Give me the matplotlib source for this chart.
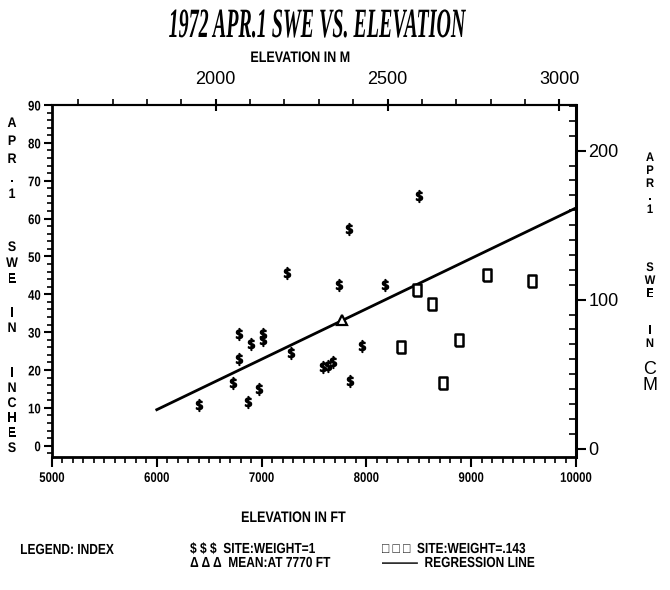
import matplotlib
matplotlib.use('Agg')
import matplotlib.pyplot as plt
from matplotlib import font_manager as fm
from matplotlib.font_manager import FontProperties
from matplotlib.ticker import FixedLocator, MultipleLocator
from matplotlib.patheffects import AbstractPathEffect
from matplotlib.transforms import Affine2D

# ---------------- data ----------------
site_ft = [6406, 6724, 6787, 6787, 6873, 6899, 6975, 7010, 7010, 7245,
           7281, 7589, 7637, 7684, 7742, 7837, 7844, 7958, 8181, 8502]
site_in = [10.8, 16.5, 22.9, 29.5, 11.4, 26.9, 15.0, 28.0, 29.5, 45.5,
           24.5, 20.9, 21.1, 22.2, 42.5, 57.2, 17.0, 26.4, 42.5, 66.0]
sq_ft = [8327, 8480, 8629, 8734, 8884, 9148, 9577]
sq_in = [26.0, 41.2, 37.5, 16.5, 28.0, 45.1, 43.4]
mean_ft = [7770]
mean_in = [33.2]
reg_ft = [6000, 10000]
reg_in = [9.5, 62.8]
x_ticks_ft = [5000, 6000, 7000, 8000, 9000, 10000]
y_ticks_in = [0, 10, 20, 30, 40, 50, 60, 70, 80, 90]
top_ticks_m = [2000, 2500, 3000]
right_ticks_cm = [0, 100, 200]


# horizontal squeeze of a text's glyphs (text stays a Text artist)
class Squeeze(AbstractPathEffect):
    def __init__(self, sx, anchor='center'):
        super().__init__()
        self.sx = sx
        self.anchor = anchor

    def draw_path(self, renderer, gc, tpath, affine, rgbFace=None):
        bb = tpath.get_extents(affine)
        if self.anchor == 'left':
            cx = bb.x0
        elif self.anchor == 'right':
            cx = bb.x1
        else:
            cx = (bb.x0 + bb.x1) / 2
        aff = affine + Affine2D().translate(-cx, 0).scale(self.sx, 1).translate(cx, 0)
        renderer.draw_path(gc, tpath, aff, rgbFace)


# ---------------- fonts ----------------
files = [f.fname for f in fm.fontManager.ttflist]
def find(*keys):
    for k in keys:
        for f in files:
            if f.split('/')[-1].lower().startswith(k.lower()):
                return f
    return None

tfile = find('LiberationSerif-BoldItalic')
bfile = find('LiberationSansNarrow-Bold', 'LiberationSans-Bold')
hfile = find('LiberationSans-Regular', 'Roboto-Regular')

def fp(path, size, fallback='DejaVu Sans', weight='normal', style='normal'):
    if path:
        return FontProperties(fname=path, size=size)
    return FontProperties(family=fallback, size=size, weight=weight, style=style)

title_fp = fp(tfile, 30, 'DejaVu Serif', 'bold', 'italic')
tick_fp = fp(bfile, 10, 'DejaVu Sans', 'bold')
leg_fp = fp(bfile, 10.5, 'DejaVu Sans', 'bold')
stack_fp = fp(bfile, 10, 'DejaVu Sans', 'bold')
rstack_fp = fp(bfile, 9, 'DejaVu Sans', 'bold')
lab_fp = fp(bfile, 11, 'DejaVu Sans', 'bold')
big_fp = fp(hfile, 13)

SQ = 0.82

W, H = 670, 590
fig = plt.figure(figsize=(W / 100, H / 100), dpi=100)
fx = lambda px: px / W
fy = lambda py: 1 - py / H

L, R, T, B = 52, 576, 105, 457
ax = fig.add_axes([fx(L), fy(B), (R - L) / W, (B - T) / H])
ax.set_xlim(5000, 10000)
ax.set_ylim(-3, 90)

ax.plot(reg_ft, reg_in, color='black', lw=2, zorder=2)
ax.plot(site_ft, site_in, linestyle='none', marker=r'$\$$', markersize=8.5,
        color='black', zorder=3)
rect = [(-0.65, -1), (0.65, -1), (0.65, 1), (-0.65, 1), (-0.65, -1)]
ax.plot(sq_ft, sq_in, linestyle='none', marker=rect, markersize=8.5,
        markerfacecolor='white', markeredgecolor='black', markeredgewidth=1.8, zorder=3)
ax.plot(mean_ft, mean_in, linestyle='none', marker='^', markersize=7.5,
        markerfacecolor='white', markeredgecolor='black', markeredgewidth=1.6, zorder=4)

for s in ['left', 'bottom']:
    ax.spines[s].set_linewidth(2)
ax.spines['top'].set_linewidth(1.5)
ax.spines['right'].set_visible(False)

ax.xaxis.set_major_locator(FixedLocator(x_ticks_ft))
ax.xaxis.set_minor_locator(MultipleLocator(100))
ax.set_xticklabels([str(v) for v in x_ticks_ft])
ax.yaxis.set_major_locator(FixedLocator(y_ticks_in))
ax.yaxis.set_minor_locator(MultipleLocator(2))
ax.set_yticklabels([str(v) for v in y_ticks_in])
ax.tick_params(axis='x', which='major', direction='out', length=7, width=1.5, pad=3)
ax.tick_params(axis='x', which='minor', direction='out', length=4, width=1.2)
ax.tick_params(axis='y', which='major', direction='out', length=6, width=1.5, pad=2)
ax.tick_params(axis='y', which='minor', direction='out', length=3.5, width=1.2)
for lab in ax.get_xticklabels():
    lab.set_fontproperties(tick_fp)
    lab.set_path_effects([Squeeze(SQ)])
for lab in ax.get_yticklabels():
    lab.set_fontproperties(tick_fp)
    lab.set_path_effects([Squeeze(SQ, 'right')])

# top axis (meters)
ft2m = lambda x: x * 0.3048
m2ft = lambda m: m / 0.3048
top = ax.secondary_xaxis('top', functions=(ft2m, m2ft))
top.spines['top'].set_linewidth(1.5)
top.xaxis.set_major_locator(FixedLocator(top_ticks_m))
top.xaxis.set_minor_locator(MultipleLocator(100))
top.set_xticklabels([str(v) for v in top_ticks_m])
top.tick_params(axis='x', which='major', direction='inout', length=9, width=1.5, pad=8)
top.tick_params(axis='x', which='minor', direction='out', length=4, width=1.2)
for lab in top.get_xticklabels():
    lab.set_fontproperties(big_fp)

# right axis (cm)
ax2 = ax.twinx()
off = 0.8
ax2.set_ylim((-3 + off) * 2.54, (90 + off) * 2.54)
for s in ['left', 'bottom', 'top']:
    ax2.spines[s].set_visible(False)
ax2.spines['right'].set_linewidth(2.2)
ax2.yaxis.set_major_locator(FixedLocator(right_ticks_cm))
ax2.yaxis.set_minor_locator(MultipleLocator(10))
ax2.set_yticklabels([str(v) for v in right_ticks_cm])
ax2.tick_params(axis='y', which='major', direction='out', length=7, width=1.5, pad=2)
ax2.tick_params(axis='y', which='minor', direction='in', length=5, width=1.2)
for lab in ax2.get_yticklabels():
    lab.set_fontproperties(big_fp)

# titles / labels
fig.text(fx(316), fy(27), '1972 APR.1 SWE VS. ELEVATION', fontproperties=title_fp,
         ha='center', va='center', path_effects=[Squeeze(0.48)])
fig.text(fx(300), fy(58), 'ELEVATION IN M', fontproperties=lab_fp, ha='center', va='center',
         path_effects=[Squeeze(SQ)])
fig.text(fx(293), fy(518), 'ELEVATION IN FT', fontproperties=lab_fp, ha='center', va='center',
         path_effects=[Squeeze(SQ)])

# stacked vertical labels
def stack(text, x, ys, props):
    chars = [c for c in text if c != ' ']
    for ch, y in zip(chars, ys):
        fig.text(fx(x), fy(y), ch, fontproperties=props, ha='center', va='center',
                 path_effects=[Squeeze(0.9)])

stack('APR.1 SWE IN INCHES', 12,
      [123, 141, 159, 178, 194, 247, 263, 279, 313, 328, 373, 388, 403, 418, 433, 448],
      stack_fp)
stack('APR.1 SWE IN', 650, [158, 171, 184, 197, 210, 268, 281, 294, 331, 344], rstack_fp)
fig.text(fx(650), fy(369), 'C', fontproperties=big_fp, ha='center', va='center')
fig.text(fx(650), fy(386), 'M', fontproperties=big_fp, ha='center', va='center')

# legend block
def ltext(x, y, s):
    fig.text(fx(x), fy(y), s, fontproperties=leg_fp, ha='left', va='center',
             path_effects=[Squeeze(SQ, 'left')])

ltext(20, 550, 'LEGEND: INDEX')
ltext(190, 549, '$ $ $  SITE:WEIGHT=1')
ltext(190, 563, '\u0394 \u0394 \u0394  MEAN:AT 7770 FT')
ltext(382, 549, '\u25a1 \u25a1 \u25a1  SITE:WEIGHT=.143')
ltext(382, 563, '\u2014\u2014\u2014  REGRESSION LINE')

fig.savefig('out.png', dpi=100)
